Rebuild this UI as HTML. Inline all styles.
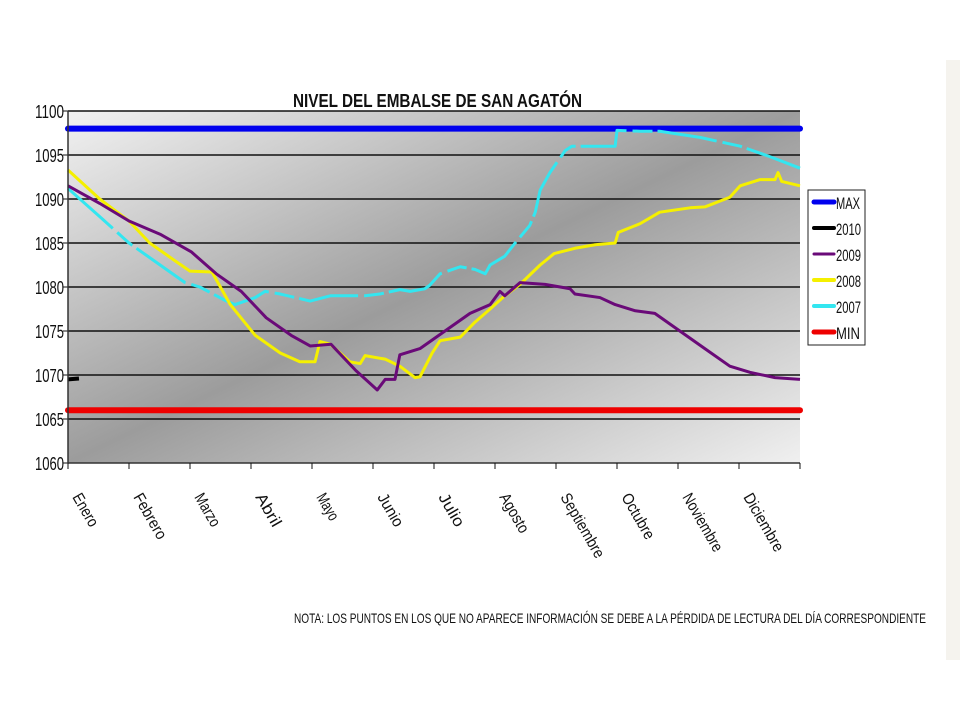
<!DOCTYPE html>
<html><head><meta charset="utf-8"><title>Nivel del Embalse de San Agatón</title>
<style>
body{margin:0;width:960px;height:720px;background:#fff;overflow:hidden;font-family:"Liberation Sans",sans-serif;}
svg{display:block}
</style></head>
<body>
<svg id="chart" width="960" height="720" viewBox="0 0 960 720" xmlns="http://www.w3.org/2000/svg">
<defs>
<linearGradient id="bg" x1="0" y1="0" x2="1" y2="1">
<stop offset="0" stop-color="#f2f2f2"/>
<stop offset="0.5" stop-color="#9c9c9c"/>
<stop offset="1" stop-color="#f0f0f0"/>
</linearGradient>
</defs>
<rect x="946" y="60" width="14" height="600" fill="#f5f3ee"/>
<text x="293" y="107" font-size="18" font-weight="bold" fill="#111" textLength="289" lengthAdjust="spacingAndGlyphs">NIVEL DEL EMBALSE DE SAN AGATÓN</text>
<rect x="68" y="111" width="732" height="352" fill="url(#bg)"/>
<g id="grid"></g>
<g id="series"></g>
<g id="axes"></g>
<g>
<rect x="808" y="190" width="57" height="155" fill="#fff" stroke="#222" stroke-width="1"/>
<g id="legend-items"></g>
</g>
<text x="294" y="623" font-size="14" fill="#111" textLength="632" lengthAdjust="spacingAndGlyphs">NOTA: LOS PUNTOS EN LOS QUE NO APARECE INFORMACIÓN SE DEBE A LA PÉRDIDA DE LECTURA DEL DÍA CORRESPONDIENTE</text>
</svg>
<script>
const months = ["Enero","Febrero","Marzo","Abril","Mayo","Junio","Julio","Agosto","Septiembre","Octubre","Noviembre","Diciembre"];
const yTicks = [1060,1065,1070,1075,1080,1085,1090,1095,1100];
const maxLevel = 1098;
const minLevel = 1066;
const x2010 = [0,0.18];
const y2010 = [1069.5,1069.6];
const x2009 = [0,0.52,1.0,1.51,2.02,2.43,2.84,3.25,3.66,3.97,4.31,4.72,5.07,5.2,5.36,5.44,5.77,6.18,6.59,6.92,7.08,7.16,7.41,7.82,8.07,8.23,8.31,8.72,8.97,9.3,9.62,10.03,10.44,10.85,11.18,11.59,12];
const y2009 = [1091.5,1089.5,1087.5,1086,1084,1081.5,1079.5,1076.5,1074.5,1073.3,1073.5,1070.5,1068.3,1069.5,1069.5,1072.3,1073,1075,1077,1078,1079.5,1079,1080.5,1080.3,1080,1079.8,1079.2,1078.8,1078,1077.3,1077,1075,1073,1071,1070.3,1069.7,1069.5];
const x2008 = [0,0.52,1.0,1.34,1.75,2.0,2.36,2.66,3.07,3.48,3.8,4.05,4.13,4.3,4.62,4.79,4.87,5.2,5.44,5.69,5.77,5.97,6.1,6.43,6.67,6.92,7.16,7.41,7.74,7.97,8.31,8.64,8.97,9.02,9.38,9.7,10.2,10.44,10.85,11.02,11.34,11.59,11.64,11.7,12];
const y2008 = [1093.3,1090,1087.5,1085,1083,1081.8,1081.7,1078,1074.5,1072.5,1071.5,1071.5,1073.8,1073.5,1071.5,1071.3,1072.2,1071.8,1071,1069.7,1069.8,1072.5,1073.9,1074.3,1076,1077.5,1079,1080.3,1082.5,1083.8,1084.4,1084.8,1085,1086.2,1087.2,1088.5,1089,1089.1,1090.2,1091.5,1092.2,1092.2,1093,1092,1091.5];
const x2007 = [0,0.52,1.0,1.51,1.92,2.16,2.57,2.74,3.07,3.23,3.48,3.97,4.3,4.87,5.11,5.44,5.61,5.85,5.93,6.1,6.43,6.67,6.84,6.92,7.16,7.33,7.57,7.66,7.74,7.9,8.15,8.26,8.97,9.0,9.38,9.7,10.36,11.02,11.51,12];
const y2007 = [1091.2,1088,1085,1082.5,1080.5,1080,1078.5,1078,1078.8,1079.5,1079.2,1078.4,1079,1079,1079.2,1079.7,1079.5,1079.8,1080.2,1081.5,1082.3,1082,1081.5,1082.5,1083.5,1085,1087,1088.5,1091,1093,1095.5,1096,1096,1097.8,1097.7,1097.7,1097,1096,1094.8,1093.5];

const X0=68,X1=800,Y0=463,Y1=111;
const sx = m => X0 + (X1-X0)*m/12;
const sy = v => Y0 - (Y0-Y1)*(v-1060)/40;
const NS="http://www.w3.org/2000/svg";
function mk(tag, attrs, parent){const e=document.createElementNS(NS,tag);for(const k in attrs)e.setAttribute(k,attrs[k]);parent.appendChild(e);return e;}
const grid=document.getElementById('grid'), series=document.getElementById('series'), axes=document.getElementById('axes');

yTicks.forEach(t=>{
  if(t>1060){
    const l=mk('line',{x1:X0,x2:X1,y1:sy(t),y2:sy(t),stroke:'#111','stroke-width':1.5},grid);
    
    
  }
  const tx=mk('text',{x:35,y:sy(t)+7,'font-size':18,fill:'#111',textLength:29,lengthAdjust:'spacingAndGlyphs'},axes);
  tx.textContent=t;
  
  
  const tk=mk('line',{x1:X0-5,x2:X0,y1:sy(t),y2:sy(t),stroke:'#111'},axes);
  
  
});
const ax=mk('line',{x1:X0,x2:X0,y1:Y1,y2:Y0,stroke:'#333','stroke-width':1.5},axes);


const bx=mk('line',{x1:X0,x2:X1,y1:Y0,y2:Y0,stroke:'#333','stroke-width':1.5},axes);


for(let i=0;i<=12;i++){
  const tk=mk('line',{x1:sx(i),x2:sx(i),y1:Y0,y2:Y0+6,stroke:'#111'},axes);
  
  
}
months.forEach((m,i)=>{
  const x=sx(i)+4, y=497;
  const t=mk('text',{x:x,y:y,'font-size':16,fill:'#111',textLength:m.length*7.2,lengthAdjust:'spacingAndGlyphs',transform:`rotate(60 ${x} ${y})`},axes);
  t.textContent=m;
  
  
});

function hline(v,color,name){
  const l=mk('line',{x1:X0,x2:X1,y1:sy(v),y2:sy(v),stroke:color,'stroke-width':6,'stroke-linecap':'round'},series);
  
  
}
function poly(xs,ys,color,w,dash,name){
  const p=mk('polyline',{points:xs.map((x,i)=>sx(x)+','+sy(ys[i])).join(' '),fill:'none',stroke:color,'stroke-width':w,'stroke-linejoin':'round'},series);
  if(dash)p.setAttribute('stroke-dasharray',dash);
  
  
}
hline(maxLevel,'#0000ee','max-line');
hline(minLevel,'#ee0000','min-line');
poly(x2007,y2007,'#33e6f0',3,'60 6 20 5','series-2007');
poly(x2008,y2008,'#f5f000',3,null,'series-2008');
poly(x2009,y2009,'#6a0a78',3,null,'series-2009');
poly(x2010,y2010,'#000',4,null,'series-2010');

const leg=document.getElementById('legend-items');
[["MAX","#0000ee",5],["2010","#000",4],["2009","#6a0a78",3],["2008","#f5f000",4],["2007","#33e6f0",4],["MIN","#ee0000",5]].forEach((d,i)=>{
  const y=202+i*26;
  const l=mk('line',{x1:814,x2:834,y1:y,y2:y,stroke:d[1],'stroke-width':d[2],'stroke-linecap':'round'},leg);
  
  
  const t=mk('text',{x:836,y:y+7,'font-size':17,fill:'#111',textLength:d[0].length===3?24:25,lengthAdjust:'spacingAndGlyphs'},leg);
  t.textContent=d[0];
  
  
});
</script>
</body></html>
